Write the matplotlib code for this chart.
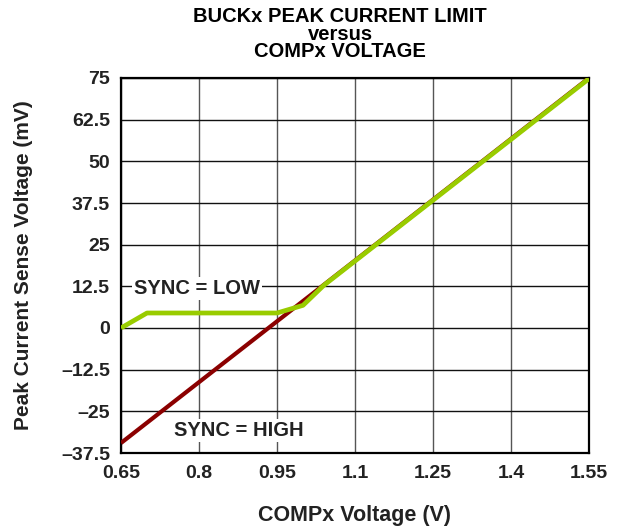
import matplotlib
matplotlib.use("Agg")
import matplotlib.pyplot as plt

# values
sync_high_v = [0.65, 1.55]
sync_high_mv = [-34.5, 75.0]

sync_low_v = [0.65, 0.70, 0.95, 1.00, 1.04, 1.55]
sync_low_mv = [0.0, 4.5, 4.5, 6.8, 12.8, 74.8]

x_ticks = [0.65, 0.8, 0.95, 1.1, 1.25, 1.4, 1.55]
x_labels = ["0.65", "0.8", "0.95", "1.1", "1.25", "1.4", "1.55"]
y_ticks = [-37.5, -25, -12.5, 0, 12.5, 25, 37.5, 50, 62.5, 75]
y_labels = ["\u201337.5", "\u201325", "\u201312.5", "0", "12.5", "25", "37.5", "50", "62.5", "75"]

plt.rcParams["font.family"] = ["Liberation Sans", "DejaVu Sans"]
plt.rcParams["font.weight"] = "bold"

fig = plt.figure(figsize=(6.24, 5.29), dpi=100)
ax = fig.add_axes([121 / 624, 1 - 453 / 529, 468 / 624, 375 / 529])

ax.plot(sync_high_v, sync_high_mv, color="#8b0000", lw=3, solid_capstyle="butt", zorder=3)
ax.plot(sync_low_v, sync_low_mv, color="#99cc00", lw=3.4, solid_capstyle="butt", zorder=4)

ax.set_xlim(0.65, 1.55)
ax.set_ylim(-37.5, 75)
ax.set_xticks(x_ticks, x_labels)
ax.set_yticks(y_ticks, y_labels)
ax.tick_params(labelsize=14, length=0)
ax.tick_params(axis="x", pad=9)
ax.tick_params(axis="y", pad=8)
for lbl in ax.get_xticklabels() + ax.get_yticklabels():
    lbl.set_fontweight("bold")
    lbl.set_color("#222222")

ax.grid(axis="x", color="#555555", lw=1.0)
ax.grid(axis="y", color="#111111", lw=1.0)
ax.set_axisbelow(True)
for sp in ax.spines.values():
    sp.set_linewidth(1.6)
    sp.set_color("black")

ax.text(0.796, 11.8, "SYNC = LOW", fontsize=14.5, fontweight="bold", color="#222222",
        ha="center", va="center", zorder=5,
        bbox=dict(facecolor="white", edgecolor="none", pad=1.5))
ax.text(0.877, -30.8, "SYNC = HIGH", fontsize=14.5, fontweight="bold", color="#222222",
        ha="center", va="center", zorder=5,
        bbox=dict(facecolor="white", edgecolor="none", pad=1.5))

fig.text(340 / 624, 1 - 34 / 529, "BUCKx PEAK CURRENT LIMIT\nversus\nCOMPx VOLTAGE",
         ha="center", va="center", fontsize=14.5, fontweight="bold", linespacing=0.92)

ax.set_xlabel("COMPx Voltage (V)", fontsize=15.5, fontweight="bold", labelpad=16, color="#222222")
ax.set_ylabel("Peak Current Sense Voltage (mV)", fontsize=15, fontweight="bold", labelpad=20, color="#222222")

fig.savefig("out.png", dpi=100)
